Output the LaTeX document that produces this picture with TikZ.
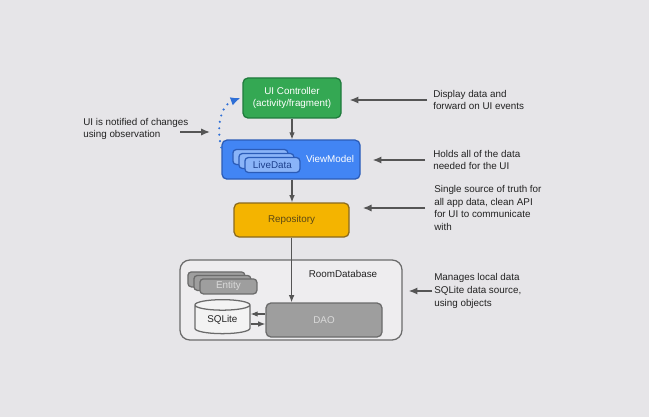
\documentclass[tikz,border=0pt]{standalone}
\usepackage{fontspec}
\setmainfont{Liberation Sans}
\usetikzlibrary{arrows.meta, positioning, calc, shapes.geometric}
\definecolor{page-bg}{HTML}{E6E5E8}
\definecolor{ctrl-fill}{HTML}{34A853}
\definecolor{ctrl-border}{HTML}{1F7A3C}
\definecolor{vm-fill}{HTML}{4285F4}
\definecolor{vm-border}{HTML}{2B5CB8}
\definecolor{ld-fill}{HTML}{8AB4F8}
\definecolor{ld-text}{HTML}{1C3F8C}
\definecolor{repo-fill}{HTML}{F4B400}
\definecolor{repo-border}{HTML}{8A6A1E}
\definecolor{repo-text}{HTML}{5A4716}
\definecolor{db-fill}{HTML}{EEEDEF}
\definecolor{db-border}{HTML}{6B6B6B}
\definecolor{part-fill}{HTML}{9E9E9E}
\definecolor{part-text}{HTML}{DADADA}
\definecolor{lite-fill}{HTML}{F3F3F3}
\definecolor{edge}{HTML}{555555}
\definecolor{observe}{HTML}{2F6FD6}
\definecolor{note}{HTML}{222222}
\tikzset{
  txt/.style={font=\fontsize{7}{9}\selectfont},
  box/.style={txt, draw, line width=0.9pt, rounded corners=3.5pt, align=center},
  ctrlbox/.style={box, draw=ctrl-border, fill=ctrl-fill, text=white,
    minimum width=2.45cm, minimum height=1.0cm},
  vmbox/.style={box, draw=vm-border, fill=vm-fill,
    minimum width=3.45cm, minimum height=0.975cm},
  livecell/.style={box, draw=vm-border, fill=ld-fill, text=ld-text, rounded corners=2.5pt,
    minimum width=1.375cm, minimum height=0.375cm, inner sep=0pt},
  repobox/.style={box, draw=repo-border, fill=repo-fill, text=repo-text,
    minimum width=2.875cm, minimum height=0.85cm},
  dbbox/.style={box, draw=db-border, fill=db-fill, rounded corners=7pt,
    minimum width=5.55cm, minimum height=2.0cm},
  partcell/.style={box, draw=db-border, fill=part-fill, text=part-text, rounded corners=2.5pt,
    minimum width=1.425cm, minimum height=0.375cm, inner sep=0pt},
  daobox/.style={box, draw=db-border, fill=part-fill, text=part-text,
    minimum width=2.9cm, minimum height=0.85cm},
  litecyl/.style={txt, cylinder, shape border rotate=90, aspect=0.35, draw=db-border,
    line width=0.9pt, cylinder uses custom fill, cylinder body fill=lite-fill,
    cylinder end fill=lite-fill, text=note, minimum width=1.375cm, minimum height=0.85cm,
    inner sep=0pt},
  lbl/.style={txt, text=note, align=left, anchor=west, inner sep=0pt},
  flow/.style={-{Latex[length=1.8mm, width=1.4mm]}, draw=edge, line width=0.8pt},
  note-edge/.style={-{Latex[length=2.2mm, width=1.8mm]}, draw=edge, line width=1.1pt},
  observe-edge/.style={-{Latex[length=2.4mm, width=2.2mm]}, draw=observe, line width=1.7pt,
    line cap=round, dash pattern=on 0pt off 4.6pt}
}
\begin{document}
\begin{tikzpicture}

  % ---- page ----------------------------------------------------------------
  \fill[page-bg] (0,0) rectangle (16.225,-10.425);
  \useasboundingbox (0,0) rectangle (16.225,-10.425);

  % ---- UI controller and ViewModel -----------------------------------------
  \node[ctrlbox] (uic) at (7.30,-2.45) {UI Controller\\(activity/fragment)};
  \node[vmbox] (vm) at (7.275,-3.99) {};
  \node[txt, text=white] (vmtext) at (8.25,-3.975) {ViewModel};

  % ---- LiveData stack ------------------------------------------------------
  \node[livecell] (ld3) at (6.51,-3.925) {};
  \node[livecell] (ld2) at (6.66,-4.025) {};
  \node[livecell] (ld1) at (6.81,-4.125) {LiveData};

  % ---- Repository ----------------------------------------------------------
  \node[repobox] (repo) at (7.29,-5.50) {Repository};

  % ---- Room database -------------------------------------------------------
  \node[dbbox] (room) at (7.275,-7.50) {};
  \node[txt, text=note] (roomtext) at (8.575,-6.85) {RoomDatabase};
  \node[partcell] (ent3) at (5.41,-6.985) {};
  \node[partcell] (ent2) at (5.56,-7.0725) {};
  \node[partcell] (ent1) at (5.71,-7.16) {Entity};
  \node[litecyl] (lite) at (5.56,-7.99) {SQLite};
  \node[daobox] (dao) at (8.10,-8.00) {DAO};

  % ---- flow between layers -------------------------------------------------
  \draw[flow] (uic.south) -- (uic.south |- vm.north);
  \draw[flow] (vm.south -| uic.south) -- (uic.south |- repo.north);
  \draw[flow] (repo.south) -- (repo.south |- dao.north);
  \draw[flow] ([yshift=0.15cm]dao.west) -- ([yshift=0.15cm]dao.west -| lite.east);
  \draw[flow] ([yshift=-0.1cm]dao.west -| lite.east) -- ([yshift=-0.1cm]dao.west);

  % ---- observation ---------------------------------------------------------
  \draw[observe-edge] ([yshift=-0.2cm]vm.north west) to[out=105, in=200] ([xshift=-0.05cm]uic.west);

  % ---- notes ---------------------------------------------------------------
  \node[lbl] (obsnote) at (2.075,-3.225) {UI is notified of changes\\using observation};
  \coordinate (obstail) at (4.50,-3.30);
  \coordinate (obstip) at (5.25,-3.30);
  \draw[note-edge] (obstail) -- (obstip);

  \node[lbl] (uinote) at (10.825,-2.50) {Display data and\\forward on UI events};
  \node[lbl] (vmnote) at (10.825,-4.00) {Holds all of the data\\needed for the UI};
  \node[lbl] (reponote) at (10.85,-5.20) {Single source of truth for\\all app data, clean API\\for UI to communicate\\with};
  \node[lbl] (roomnote) at (10.85,-7.275) {Manages local data\\SQLite data source,\\using objects};

  \draw[note-edge, shorten <=0.15cm, shorten >=0.2cm] (uinote.west) -- (uinote.west -| uic.east);
  \draw[note-edge, shorten <=0.2cm, shorten >=0.3cm] (vmnote.west) -- (vmnote.west -| vm.east);
  \draw[note-edge, shorten <=0.225cm, shorten >=0.325cm] (reponote.west) -- (reponote.west -| repo.east);
  \draw[note-edge, shorten <=0.05cm, shorten >=0.15cm] (roomnote.west) -- (roomnote.west -| room.east);

\end{tikzpicture}
\end{document}
